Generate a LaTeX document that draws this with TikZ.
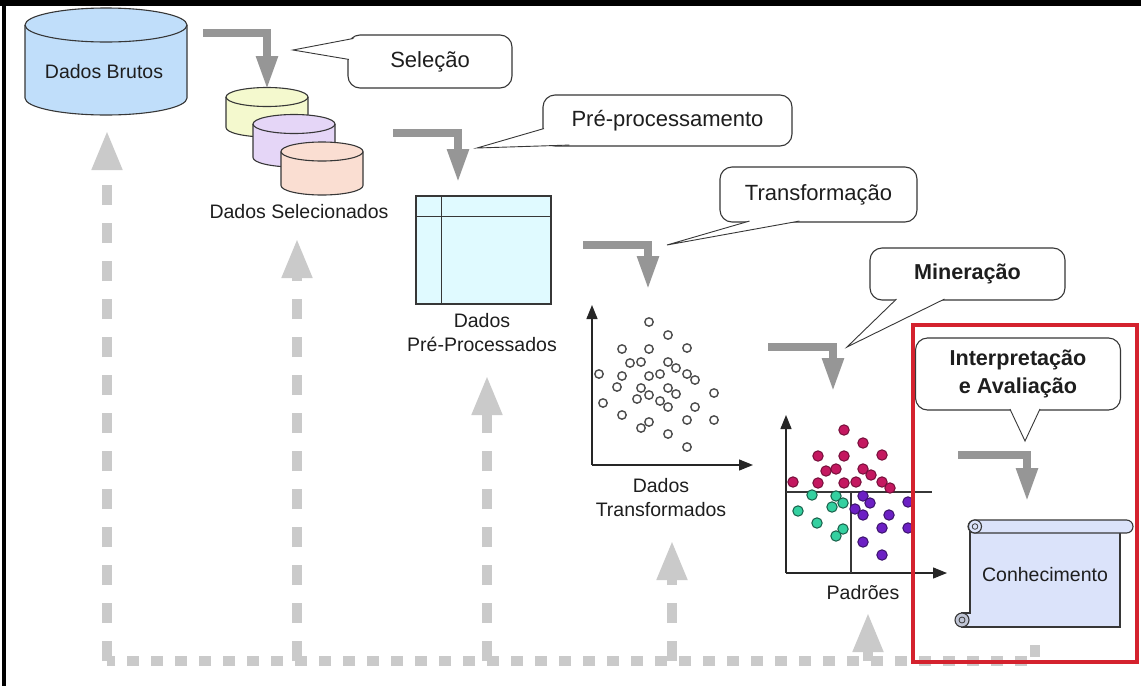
\documentclass[tikz,border=0pt]{standalone}
\usepackage{fontspec}
\setmainfont{Liberation Sans}
\usetikzlibrary{arrows.meta}

\definecolor{lineGray}{RGB}{55,55,55}
\definecolor{textGray}{RGB}{30,30,30}
\definecolor{stepGray}{RGB}{150,150,150}
\definecolor{feedGray}{RGB}{202,202,202}
\definecolor{rawBlue}{RGB}{192,222,250}
\definecolor{selYellow}{RGB}{244,249,206}
\definecolor{selPurple}{RGB}{229,214,247}
\definecolor{selPink}{RGB}{250,222,210}
\definecolor{tableFill}{RGB}{224,250,255}
\definecolor{scrollFill}{RGB}{219,227,250}
\definecolor{clusterA}{RGB}{196,24,96}
\definecolor{clusterB}{RGB}{52,208,160}
\definecolor{clusterC}{RGB}{108,32,196}
\definecolor{frameRed}{RGB}{212,34,46}

%% drum: fill, centre x, top y, bottom y, x radius, y radius
\newcommand{\dbDrum}[6]{%
  \filldraw[fill=#1,lineDecorate] (#2-#5,#3) -- (#2-#5,#4)
    arc[start angle=180,end angle=0,x radius=#5,y radius=#6] -- (#2+#5,#3)
    arc[start angle=0,end angle=-180,x radius=#5,y radius=#6] -- cycle;
  \draw[lineDecorate] (#2-#5,#3) arc[start angle=180,end angle=0,x radius=#5,y radius=#6];
}
%% speech tail: base, tip, base
\newcommand{\calloutTail}[3]{%
  \fill[white] #1 -- #2 -- #3 -- cycle;
  \draw[lineDecorate,line width=0.9pt] #1 -- #2 -- #3;
}

\begin{document}
\begin{tikzpicture}
[x=1pt,y=-1pt,
  lineDecorate/.style={draw=lineGray,line width=1.1pt},
  dataLabel/.style={font=\fontsize{19.5pt}{24pt}\selectfont,text=textGray,align=center,inner sep=0pt},
  calloutBox/.style={draw=lineGray,line width=1.1pt,fill=white,rounded corners=12pt,
    font=\fontsize{22pt}{28pt}\selectfont,text=textGray,align=center,inner sep=0pt},
  stepArrow/.style={draw=stepGray,line width=8pt,line join=miter,-{Triangle[width=20pt,length=34pt]}},
  feedLine/.style={draw=feedGray,line width=10pt,dash pattern=on 12pt off 12pt},
  feedArrow/.style={draw=feedGray,line width=10pt,dash pattern=on 20pt off 18pt,-{Triangle[width=28pt,length=40pt]}},
  axisArrow/.style={draw=black!85,line width=1.3pt,-{Triangle[width=11pt,length=14pt]}},
  ringDot/.style={draw=black!70,line width=1.4pt,fill=white},
  redFrame/.style={draw=frameRed,line width=4.5pt}]
\useasboundingbox (0,0) rectangle (1141,686);
\fill[white] (0,0) rectangle (1141,686);
\fill[black] (0,0) rectangle (1141,6);
\fill[black] (2,0) rectangle (6,686);

%% feedback loop (drawn first, under everything)
\coordinate (loopEnd) at (1035,645);
\coordinate (loopCorner) at (1035,661);
\coordinate (loopLeft) at (107,661);
\draw[feedLine] (loopEnd) -- (loopCorner) -- (loopLeft);
\foreach \name/\x/\tip in {brutos/107/130, selec/297/238, prep/487/375, trans/672/540, padr/868/612}
{
  \coordinate (\name Foot) at (\x,661);
  \coordinate (\name Head) at (\x,\tip);
  \draw[feedArrow] (\name Foot) -- (\name Head);
}

%% databases
\dbDrum{rawBlue}{106}{25}{98}{81}{17}
\node[dataLabel] (brutos) at (104,72) {Dados Brutos};
\dbDrum{selYellow}{267}{97}{127.5}{41}{9.5}
\dbDrum{selPurple}{294}{124}{157.5}{41}{9.5}
\dbDrum{selPink}{322}{151.5}{185.5}{41}{9.5}
\node[dataLabel] (selecionados) at (299,212) {Dados Selecionados};

%% table
\node[draw=lineGray,line width=1.2pt,fill=tableFill,minimum width=135pt,minimum height=108pt,inner sep=0pt] (preTable) at (483.5,250) {};
\draw[lineDecorate] ([xshift=26pt]preTable.north west) -- ([xshift=26pt]preTable.south west);
\draw[lineDecorate] ([yshift=-21pt]preTable.north west) -- ([yshift=-21pt]preTable.north east);
\node[dataLabel] (preLabel) at (482,333) {Dados\\Pré-Processados};

%% transformed data
\coordinate (tOrigin) at (592,465);
\coordinate (tTop) at (592,305);
\coordinate (tRight) at (753,465);
\draw[axisArrow] (tOrigin) -- (tTop);
\draw[axisArrow] (tOrigin) -- (tRight);
\foreach \x/\y in {649/322, 668/335, 622/349, 649/349, 687/348, 630/363, 641/362, 668/362,
  676/368, 599/374, 622/376, 649/376, 660/374, 687/374, 695/380, 617/387, 641/388, 668/388,
  676/394, 714/393, 649/395, 637/399, 660/401, 668/407, 603/403, 695/407, 622/415, 649/422,
  641/428, 687/420, 714/420, 668/434, 687/447}
  \draw[ringDot] (\x,\y) circle[radius=4.2];
\node[dataLabel] (transLabel) at (661,498) {Dados\\Transformados};

%% patterns
\coordinate (pOrigin) at (786,573);
\coordinate (pTop) at (786,415);
\coordinate (pRight) at (947,573);
\draw[axisArrow] (pOrigin) -- (pTop);
\draw[axisArrow] (pOrigin) -- (pRight);
\draw[lineDecorate,line width=1.3pt] (786,492) -- (932,492);
\draw[lineDecorate,line width=1.3pt] (851,492) -- (851,573);
\foreach \x/\y in {844/430, 863/443, 818/456, 844/456, 882/455, 826/471, 836/469, 863/469,
  871/475, 793/482, 818/483, 844/483, 856/482, 882/482, 890/488}
  \filldraw[fill=clusterA,draw=clusterA!60!black,line width=1pt] (\x,\y) circle[radius=5.2];
\foreach \x/\y in {812/495, 836/496, 843/503, 798/511, 832/507, 817/523, 843/529, 836/536}
  \filldraw[fill=clusterB,draw=clusterB!45!black,line width=1pt] (\x,\y) circle[radius=5.2];
\foreach \x/\y in {863/496, 870/503, 855/509, 863/515, 889/515, 908/502, 882/528, 908/528,
  863/542, 882/555}
  \filldraw[fill=clusterC,draw=clusterC!55!black,line width=1pt] (\x,\y) circle[radius=5.2];
\node[dataLabel] (padroes) at (863,593) {Padrões};

%% knowledge scroll
\filldraw[fill=scrollFill,lineDecorate] (970,530) -- (1120,530) -- (1120,627) -- (962,627)
  -- (962,613) -- (970,613) -- cycle;
\filldraw[fill=scrollFill!70!gray,lineDecorate] (962,620) circle[radius=7];
\draw[lineDecorate,line width=0.8pt] (962,620) circle[radius=3];
\filldraw[fill=scrollFill,lineDecorate,rounded corners=6.5pt] (968,520) rectangle (1133,533);
\filldraw[fill=scrollFill,lineDecorate] (975,526.5) circle[radius=6.5];
\draw[lineDecorate,line width=0.8pt] (975,526.5) circle[radius=2.8];
\node[dataLabel] (conhecimento) at (1045,575) {Conhecimento};

%% step arrows
\foreach \n/\sx/\sy/\ex/\ey in {1/203/33/267/90, 2/393/133/458/183, 3/583/245/648/290,
  4/768/347/833/392, 5/958/455/1027/502}
{
  \coordinate (from\n) at (\sx,\sy);
  \coordinate (to\n) at (\ex,\ey);
  \draw[stepArrow] (from\n) -| (to\n);
}

%% callouts
\node[calloutBox,minimum width=164pt,minimum height=53pt] (selecao) at (430,61.5) {Seleção};
\node[calloutBox,minimum width=249pt,minimum height=51pt] (preproc) at (667.5,120.5) {Pré-processamento};
\node[calloutBox,minimum width=197pt,minimum height=55pt] (transf) at (818.5,194.5) {Transformação};
\node[calloutBox,minimum width=195pt,minimum height=52pt,font=\fontsize{21.6pt}{28pt}\bfseries] (mineracao) at (967.5,274) {Mineração};
\node[calloutBox,minimum width=205pt,minimum height=72pt,font=\fontsize{21.6pt}{28pt}\bfseries] (interp) at (1018,374) {Interpretação\\e Avaliação};
\coordinate (selTip) at (293,50);
\coordinate (preTip) at (477,148);
\coordinate (transTip) at (667,245);
\coordinate (minTip) at (847,347);
\coordinate (intTip) at (1025,441);
\calloutTail{([shift={(6,4)}]selecao.north west)}{(selTip)}{([shift={(1.5,25)}]selecao.north west)}
\calloutTail{([shift={(1.5,-18)}]preproc.south west)}{(preTip)}{([shift={(27,-1.5)}]preproc.south west)}
\calloutTail{([shift={(30,-1.5)}]transf.south west)}{(transTip)}{([shift={(80,-1.5)}]transf.south west)}
\calloutTail{([shift={(27,-1.5)}]mineracao.south west)}{(minTip)}{([shift={(75,-1.5)}]mineracao.south west)}
\calloutTail{([shift={(95,-1.5)}]interp.south west)}{(intTip)}{([shift={(125,-1.5)}]interp.south west)}

%% highlight
\draw[redFrame] (913,325) rectangle (1137,662);
\end{tikzpicture}
\end{document}
